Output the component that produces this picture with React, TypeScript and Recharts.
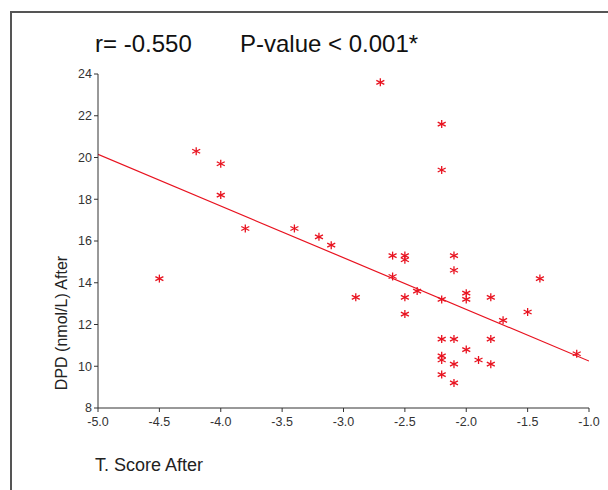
import { Line, ComposedChart, Scatter, XAxis, YAxis } from "recharts";

const tScore = [
    -2.7, -2.2, -2.2, -4.2, -4.0, -4.0, -3.8, -3.4, -3.2, -3.1,
    -4.5, -2.9, -2.6, -2.5, -2.5, -2.6, -2.5, -2.4, -2.5, -2.1,
    -2.1, -2.2, -2.0, -2.0, -1.8, -1.5, -1.4, -1.7, -2.2, -2.1,
    -1.8, -2.0, -2.2, -2.2, -1.9, -2.1, -1.8, -2.2, -2.1, -1.1,
];
const dpd = [
    23.6, 21.6, 19.4, 20.3, 19.7, 18.2, 16.6, 16.6, 16.2, 15.8,
    14.2, 13.3, 15.3, 15.3, 15.1, 14.3, 13.3, 13.6, 12.5, 15.3,
    14.6, 13.2, 13.5, 13.2, 13.3, 12.6, 14.2, 12.2, 11.3, 11.3,
    11.3, 10.8, 10.5, 10.3, 10.3, 10.1, 10.1, 9.6, 9.2, 10.6,
];
const fitX = [-5.0, -1.0];
const fitY = [20.15, 10.25];
const xTicks = [-5.0, -4.5, -4.0, -3.5, -3.0, -2.5, -2.0, -1.5, -1.0];
const yTicks = [8, 10, 12, 14, 16, 18, 20, 22, 24];

const points = tScore.map((x, i) => ({ x, y: dpd[i] }));
const fit = fitX.map((x, i) => ({ x, fy: fitY[i] }));

const RED = "#e8121f";
const font = "'Liberation Sans', Arial, sans-serif";

const Star = (props: any) => {
    const { cx, cy } = props;
    const r = 4;
    return (
        <g stroke={RED} strokeWidth={1.3}>
            <line x1={cx} y1={cy - r} x2={cx} y2={cy + r} />
            <line x1={cx - r} y1={cy - r * 0.5} x2={cx + r} y2={cy + r * 0.5} />
            <line x1={cx - r} y1={cy + r * 0.5} x2={cx + r} y2={cy - r * 0.5} />
        </g>
    );
};

const tickStyle = { fontSize: 12.5, fill: "#333", fontFamily: font };

export default function App() {
    return (
        <div style={{ position: "absolute", left: 0, top: 0, width: 608, height: 490, background: "#fff", fontFamily: font }}>
            <div style={{ position: "absolute", left: 10, top: 11, width: 620, height: 500, borderLeft: "2px solid #555", borderTop: "2px solid #555" }} />
            <div style={{ position: "absolute", left: 95, top: 30, fontSize: 24, color: "#111", whiteSpace: "nowrap" }}>r= -0.550</div>
            <div style={{ position: "absolute", left: 240, top: 30, fontSize: 24, color: "#111", whiteSpace: "nowrap" }}>P-value &lt; 0.001*</div>
            <div style={{ position: "absolute", left: 95, top: 455, fontSize: 18, color: "#222" }}>T. Score After</div>
            <div style={{ position: "absolute", left: 62, top: 323, fontSize: 16, color: "#222", transform: "translate(-50%, -50%) rotate(-90deg)", whiteSpace: "nowrap" }}>
                DPD (nmol/L) After
            </div>
            <ComposedChart width={608} height={490} margin={{ top: 74, right: 19, bottom: 52, left: 68 }} style={{ position: "absolute", left: 0, top: 0 }}>
                <XAxis dataKey="x" type="number" domain={[-5, -1]} ticks={xTicks} tickFormatter={(v: number) => v.toFixed(1)}
                    stroke="#333" tickSize={4} tick={{ ...tickStyle, dy: 3 }} height={30} allowDataOverflow />
                <XAxis xAxisId="top" orientation="top" type="number" domain={[-5, -1]} tick={false} stroke="#333" height={0} />
                <YAxis dataKey="y" type="number" domain={[8, 24]} ticks={yTicks} stroke="#333" tickSize={4} tick={tickStyle} width={30} allowDataOverflow />
                <YAxis yAxisId="right" orientation="right" type="number" domain={[8, 24]} tick={false} stroke="#333" width={0} />
                <Line data={fit} dataKey="fy" type="linear" stroke={RED} strokeWidth={1.2} dot={false} isAnimationActive={false} />
                <Scatter data={points} dataKey="y" shape={Star} isAnimationActive={false} />
            </ComposedChart>
        </div>
    );
}
